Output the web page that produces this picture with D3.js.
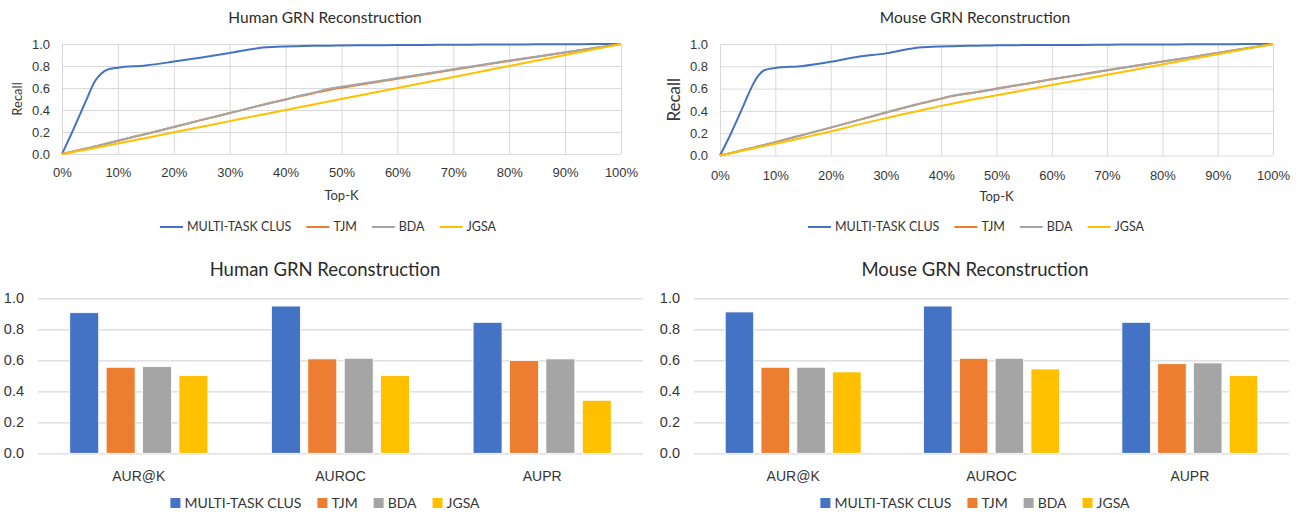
<!DOCTYPE html>
<html><head><meta charset="utf-8">
<script src="https://cdn.jsdelivr.net/npm/d3@7"></script>
<style>body{margin:0;background:#fff}svg{display:block;font-family:Lato,'Open Sans',sans-serif}</style>
</head><body><svg id="c" width="1306" height="513"></svg>
<script>
// ---------- data ----------
const seriesNames = ["MULTI-TASK CLUS", "TJM", "BDA", "JGSA"];
const seriesColors = ["#4472C4", "#ED7D31", "#A5A5A5", "#FFC000"];

const topK = [0, 2, 4, 6, 7, 8, 10, 15, 20, 25, 30, 35, 36, 40, 42, 45, 48, 50, 55, 60, 65, 70, 75, 80, 85, 90, 95, 100];

const humanMulti = [0, 0.22, 0.45, 0.67, 0.73, 0.765, 0.785, 0.805, 0.84, 0.878, 0.918, 0.962, 0.968, 0.978, 0.98, 0.983, 0.985, 0.987, 0.989, 0.99, 0.992, 0.993, 0.995, 0.996, 0.997, 0.998, 0.999, 1];
const humanTJM   = [0, 0.022, 0.046, 0.07, 0.082, 0.095, 0.12, 0.182, 0.245, 0.31, 0.372, 0.435, 0.448, 0.496, 0.52, 0.553, 0.585, 0.602, 0.643, 0.684, 0.725, 0.766, 0.806, 0.846, 0.885, 0.923, 0.961, 1];
const humanBDA   = [0, 0.022, 0.046, 0.07, 0.082, 0.095, 0.12, 0.182, 0.245, 0.31, 0.372, 0.435, 0.448, 0.496, 0.522, 0.558, 0.595, 0.612, 0.65, 0.69, 0.73, 0.77, 0.81, 0.849, 0.887, 0.925, 0.962, 1];
const humanJGSA  = [0, 0.018, 0.037, 0.056, 0.066, 0.076, 0.096, 0.146, 0.197, 0.248, 0.299, 0.35, 0.36, 0.4, 0.42, 0.45, 0.48, 0.5, 0.55, 0.6, 0.65, 0.7, 0.75, 0.8, 0.85, 0.9, 0.95, 1];

const mouseMulti = [0, 0.2, 0.42, 0.64, 0.72, 0.765, 0.785, 0.803, 0.84, 0.885, 0.916, 0.962, 0.968, 0.978, 0.98, 0.984, 0.986, 0.988, 0.99, 0.991, 0.992, 0.994, 0.995, 0.996, 0.997, 0.998, 0.999, 1];
const mouseTJM   = [0, 0.023, 0.047, 0.07, 0.083, 0.095, 0.12, 0.185, 0.25, 0.317, 0.385, 0.45, 0.463, 0.51, 0.533, 0.556, 0.58, 0.598, 0.64, 0.683, 0.723, 0.764, 0.803, 0.842, 0.88, 0.92, 0.96, 1];
const mouseBDA   = [0, 0.023, 0.047, 0.07, 0.083, 0.095, 0.12, 0.185, 0.25, 0.317, 0.385, 0.45, 0.463, 0.51, 0.535, 0.558, 0.582, 0.6, 0.642, 0.685, 0.725, 0.765, 0.805, 0.843, 0.88, 0.92, 0.96, 1];
const mouseJGSA  = [0, 0.021, 0.042, 0.063, 0.074, 0.084, 0.105, 0.16, 0.215, 0.277, 0.335, 0.39, 0.4, 0.445, 0.465, 0.495, 0.522, 0.54, 0.586, 0.632, 0.678, 0.724, 0.77, 0.816, 0.862, 0.908, 0.954, 1];

const xTickValues = [0, 10, 20, 30, 40, 50, 60, 70, 80, 90, 100];
const xTickLabels = ["0%", "10%", "20%", "30%", "40%", "50%", "60%", "70%", "80%", "90%", "100%"];
const yTickValues = [0, 0.2, 0.4, 0.6, 0.8, 1.0];
const yTickLabels = ["0.0", "0.2", "0.4", "0.6", "0.8", "1.0"];

const metrics = ["AUR@K", "AUROC", "AUPR"];
const humanBarMulti = [0.907, 0.95, 0.845];
const humanBarTJM   = [0.555, 0.609, 0.598];
const humanBarBDA   = [0.559, 0.613, 0.609];
const humanBarJGSA  = [0.501, 0.501, 0.342];
const mouseBarMulti = [0.912, 0.95, 0.845];
const mouseBarTJM   = [0.555, 0.613, 0.578];
const mouseBarBDA   = [0.555, 0.613, 0.583];
const mouseBarJGSA  = [0.525, 0.544, 0.501];

// ---------- drawing ----------
const svg = d3.select("#c");
const TXT = "#363636", GRID = "#D9D9D9";

function lineLegend(cx, cy, size) {
  const g = svg.append("g");
  let x = 0;
  seriesNames.forEach((n, i) => {
    g.append("line").attr("x1", x).attr("x2", x + 23).attr("y1", 0).attr("y2", 0)
      .attr("stroke", seriesColors[i]).attr("stroke-width", 2);
    const t = g.append("text").attr("x", x + 27).attr("y", 0).attr("dy", "0.35em")
      .attr("font-size", size).attr("fill", TXT).text(n);
    x += 27 + t.node().getComputedTextLength() + 15;
  });
  const w = x - 15;
  g.attr("transform", `translate(${cx - w / 2},${cy})`);
}

function boxLegend(cx, cy, size) {
  const g = svg.append("g");
  let x = 0;
  seriesNames.forEach((n, i) => {
    g.append("rect").attr("x", x).attr("y", -5).attr("width", 10).attr("height", 10).attr("fill", seriesColors[i]);
    const t = g.append("text").attr("x", x + 14).attr("y", 0).attr("dy", "0.35em")
      .attr("font-size", size).attr("fill", TXT).text(n);
    x += 14 + t.node().getComputedTextLength() + 16;
  });
  const w = x - 16;
  g.attr("transform", `translate(${cx - w / 2},${cy})`);
}

function lineChart(cfg, seriesData) {
  const x = d3.scaleLinear().domain([0, 100]).range([cfg.x0, cfg.x1]);
  const y = d3.scaleLinear().domain([0, 1]).range([cfg.y0, cfg.y1]);
  const g = svg.append("g");
  g.append("g").attr("transform", `translate(0,${cfg.y0})`)
    .call(d3.axisBottom(x).tickValues(xTickValues).tickSize(-(cfg.y0 - cfg.y1)).tickFormat(""))
    .call(s => s.select(".domain").remove())
    .call(s => s.selectAll("line").attr("stroke", GRID));
  g.append("g").attr("transform", `translate(${cfg.x0},0)`)
    .call(d3.axisLeft(y).tickValues(yTickValues).tickSize(-(cfg.x1 - cfg.x0)).tickFormat(""))
    .call(s => s.select(".domain").remove())
    .call(s => s.selectAll("line").attr("stroke", GRID));
  g.append("g").attr("transform", `translate(0,${cfg.y0 + cfg.xLabOff})`)
    .call(d3.axisBottom(x).tickValues(xTickValues).tickSize(0).tickPadding(0).tickFormat((d, i) => xTickLabels[i]))
    .call(s => s.select(".domain").remove())
    .call(s => s.selectAll("text").attr("font-size", 13).attr("fill", TXT).attr("font-family", null).attr("dy", "0.35em"));
  g.append("g").attr("transform", `translate(${cfg.x0 - 12},0)`)
    .call(d3.axisLeft(y).tickValues(yTickValues).tickSize(0).tickPadding(0).tickFormat((d, i) => yTickLabels[i]))
    .call(s => s.select(".domain").remove())
    .call(s => s.selectAll("text").attr("font-size", 13).attr("fill", TXT).attr("font-family", null));
  const line = d3.line().x((d, i) => x(topK[i])).y(d => y(d)).curve(d3.curveMonotoneX);
  seriesData.forEach((arr, i) => {
    g.append("path").datum(arr).attr("d", line).attr("fill", "none")
      .attr("stroke", seriesColors[i]).attr("stroke-width", 2).attr("stroke-linejoin", "round");
  });
  svg.append("text").attr("x", cfg.titleX).attr("y", 18).attr("dy", "0.35em").attr("text-anchor", "middle")
    .attr("font-size", 15.5).attr("fill", "#2b2b2b").text(cfg.title);
  svg.append("text").attr("x", (cfg.x0 + cfg.x1) / 2).attr("y", cfg.y0 + 41).attr("dy", "0.35em").attr("text-anchor", "middle")
    .attr("font-size", 13).attr("fill", TXT).text("Top-K");
  svg.append("text").attr("transform", `translate(${cfg.recallX},${(cfg.y0 + cfg.y1) / 2}) rotate(-90)`)
    .attr("dy", "0.35em").attr("text-anchor", "middle").attr("font-size", cfg.recallSize).attr("fill", TXT).text("Recall");
  lineLegend(cfg.legendX, 227, 12.5);
}

function barChart(cfg, seriesData) {
  const x = d3.scaleBand().domain(metrics).range([cfg.x0, cfg.x1]).paddingInner(0.315).paddingOuter(0.1575);
  const xs = d3.scaleBand().domain(seriesNames).range([0, x.bandwidth()]).paddingInner(0.205).paddingOuter(0);
  const y = d3.scaleLinear().domain([0, 1]).range([cfg.y0, cfg.y1]);
  const g = svg.append("g");
  g.append("g").attr("transform", `translate(${cfg.x0},0)`)
    .call(d3.axisLeft(y).tickValues(yTickValues).tickSize(-(cfg.x1 - cfg.x0)).tickFormat(""))
    .call(s => s.select(".domain").remove())
    .call(s => s.selectAll("line").attr("stroke", GRID).attr("stroke-width", 1.3));
  g.append("g").attr("transform", `translate(${cfg.x0 - 14},0)`)
    .call(d3.axisLeft(y).tickValues(yTickValues).tickSize(0).tickPadding(0).tickFormat((d, i) => yTickLabels[i]))
    .call(s => s.select(".domain").remove())
    .call(s => s.selectAll("text").attr("font-size", 14.5).attr("fill", TXT).attr("font-family", null));
  seriesData.forEach((arr, si) => {
    g.append("g").selectAll("rect").data(arr).join("rect")
      .attr("x", (d, i) => x(metrics[i]) + xs(seriesNames[si]))
      .attr("width", xs.bandwidth())
      .attr("y", d => y(d)).attr("height", d => y(0) - y(d))
      .attr("fill", seriesColors[si]).attr("stroke", "#fff").attr("stroke-width", 0.8);
  });
  g.append("g").attr("transform", `translate(0,${cfg.y0 + 23})`)
    .call(d3.axisBottom(x).tickSize(0).tickPadding(0))
    .call(s => s.select(".domain").remove())
    .call(s => s.selectAll("text").attr("font-size", 14).attr("fill", TXT).attr("font-family", null).attr("dy", "0.35em"));
  svg.append("text").attr("x", cfg.titleX).attr("y", 270).attr("dy", "0.35em").attr("text-anchor", "middle")
    .attr("font-size", 18.5).attr("fill", "#2b2b2b").text(cfg.title);
  boxLegend(cfg.titleX, 503, 14);
}

lineChart({x0: 62, x1: 621, y0: 154, y1: 44, xLabOff: 18, titleX: 325, legendX: 328, title: "Human GRN Reconstruction", recallX: 17, recallSize: 13},
  [humanMulti, humanTJM, humanBDA, humanJGSA]);
lineChart({x0: 720, x1: 1273, y0: 155.5, y1: 44, xLabOff: 20, titleX: 975, legendX: 976, title: "Mouse GRN Reconstruction", recallX: 674, recallSize: 17},
  [mouseMulti, mouseTJM, mouseBDA, mouseJGSA]);
barChart({x0: 38, x1: 643, y0: 453.3, y1: 298.3, titleX: 325, title: "Human GRN Reconstruction"},
  [humanBarMulti, humanBarTJM, humanBarBDA, humanBarJGSA]);
barChart({x0: 694, x1: 1289, y0: 453.3, y1: 298.3, titleX: 975, title: "Mouse GRN Reconstruction"},
  [mouseBarMulti, mouseBarTJM, mouseBarBDA, mouseBarJGSA]);
</script></body></html>
